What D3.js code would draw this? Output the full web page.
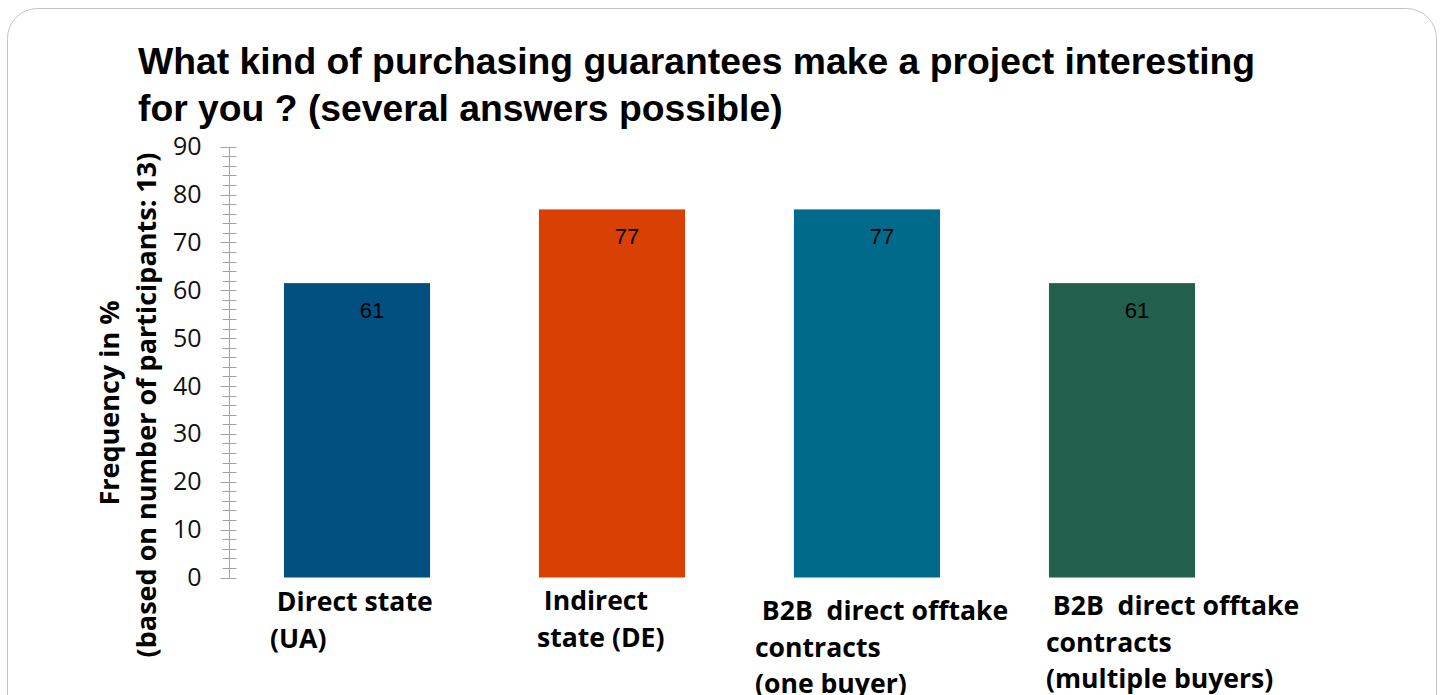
<!DOCTYPE html>
<html>
<head>
<meta charset="utf-8">
<script src="https://cdn.jsdelivr.net/npm/d3@7"></script>
<style>
  body { margin: 0; background: #fff; }
  svg { display: block; }
</style>
</head>
<body>
<script>
// chart data
let categories = ["Direct state (UA)", "Indirect state (DE)", "B2B direct offtake contracts (one buyer)", "B2B direct offtake contracts (multiple buyers)"];
let values = [61.5, 76.9, 76.9, 61.5];          // % of 13 participants
let valueLabels = ["61", "77", "77", "61"];
let labelLines = [
  [" Direct state", "(UA)"],
  [" Indirect", "state (DE)"],
  [" B2B  direct offtake", "contracts", "(one buyer)"],
  [" B2B  direct offtake", "contracts", "(multiple buyers)"]
];
let yTicks = [0, 10, 20, 30, 40, 50, 60, 70, 80, 90];
let barColors = ["#02507f", "#d84103", "#006a8b", "#235f4d"];

let width = 1440, height = 695;

let svg = d3.select("body").append("svg")
  .attr("width", width)
  .attr("height", height);

// rounded frame, runs off the bottom
svg.append("rect")
  .attr("x", 7.5).attr("y", 8.5)
  .attr("width", 1429).attr("height", 740)
  .attr("rx", 30).attr("ry", 30)
  .style("fill", "#fff")
  .style("stroke", "#c4c4c4")
  .style("stroke-width", 1);

// title
let title = svg.append("text")
  .style("font-family", "'Liberation Sans', Arial, sans-serif")
  .style("font-weight", "bold")
  .style("font-size", "37.3px")
  .style("fill", "#000");
title.append("tspan").attr("x", 138).attr("y", 74).text("What kind of purchasing guarantees make a project interesting");
title.append("tspan").attr("x", 138).attr("y", 121).text("for you ? (several answers possible)");

// scales
let x = d3.scaleBand()
  .domain(categories)
  .range([229.5, 1249.5])
  .paddingInner(0.427)
  .paddingOuter(0.2135);

let y = d3.scaleLinear()
  .domain([0, 90])
  .range([577.5, 146.7]);

let axisX = 229.5;

// y axis labels
let yAxis = d3.axisLeft(y)
  .tickValues(yTicks)
  .tickSize(0)
  .tickPadding(28);

let ag = svg.append("g")
  .attr("transform", "translate(" + axisX + ",0)")
  .call(yAxis);
ag.select(".domain").remove();
ag.selectAll("text")
  .style("font-family", "'Open Sans', sans-serif")
  .style("font-size", "25px")
  .style("fill", "#111");

// axis line + cross ticks
svg.append("line")
  .attr("x1", axisX).attr("x2", axisX)
  .attr("y1", y(90)).attr("y2", y(0))
  .style("stroke", "#a3a3a3").style("stroke-width", 1);

svg.selectAll("line.minor")
  .data(d3.range(0, 91, 2))
  .enter().append("line")
    .attr("class", "minor")
    .attr("x1", d => axisX - (d % 10 === 0 ? 9 : 7))
    .attr("x2", axisX + 7)
    .attr("y1", d => Math.round(y(d)) + 0.5)
    .attr("y2", d => Math.round(y(d)) + 0.5)
    .style("stroke", "#a3a3a3").style("stroke-width", 1);

// y axis title
let yTitle = svg.append("g")
  .style("font-family", "'Open Sans', sans-serif")
  .style("font-weight", "bold")
  .style("font-size", "27px")
  .style("fill", "#000");
yTitle.append("text")
  .attr("transform", "translate(119,403) rotate(-90)")
  .attr("text-anchor", "middle")
  .text("Frequency in %");
yTitle.append("text")
  .attr("transform", "translate(156,405) rotate(-90)")
  .attr("text-anchor", "middle")
  .text("(based on number of participants: 13)");

// bars
svg.selectAll("rect.bar")
  .data(values)
  .enter().append("rect")
    .attr("class", "bar")
    .attr("x", (d, i) => x(categories[i]))
    .attr("y", d => y(d))
    .attr("width", x.bandwidth())
    .attr("height", d => y(0) - y(d))
    .style("fill", (d, i) => barColors[i]);

// value labels
svg.selectAll("text.val")
  .data(values)
  .enter().append("text")
    .attr("class", "val")
    .attr("x", (d, i) => x(categories[i]) + x.bandwidth() / 2 + 15)
    .attr("y", d => y(d) + 35)
    .attr("text-anchor", "middle")
    .style("font-family", "'Liberation Sans', Arial, sans-serif")
    .style("font-size", "22px")
    .style("fill", "#000")
    .text((d, i) => valueLabels[i]);

// category labels (left aligned text boxes, as in the original)
let labelDx = [-14, -2, -39, -3];
let labelTop = [611, 610, 620, 615];
let lineH = 36.5;

categories.forEach((c, i) => {
  let t = svg.append("text")
    .attr("xml:space", "preserve")
    .style("white-space", "pre")
    .style("font-family", "'Open Sans', sans-serif")
    .style("font-weight", "bold")
    .style("font-size", "26.6px")
    .style("fill", "#000");
  labelLines[i].forEach((ln, j) => {
    t.append("tspan")
      .attr("x", x(c) + labelDx[i])
      .attr("y", labelTop[i] + j * lineH)
      .text(ln);
  });
});
</script>
</body>
</html>
